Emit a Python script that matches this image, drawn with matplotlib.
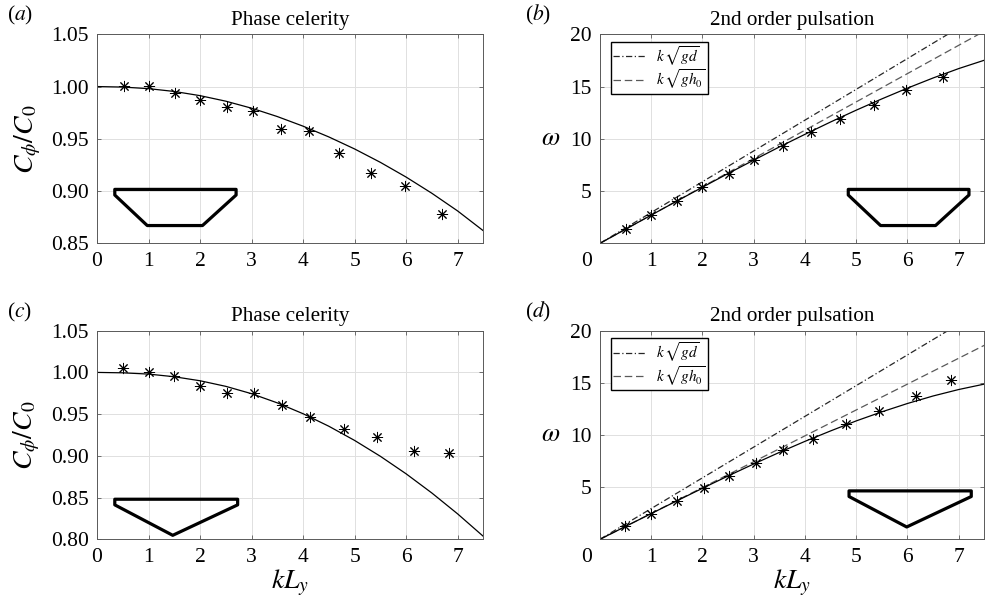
import matplotlib
matplotlib.use("Agg")
import matplotlib.pyplot as plt
from matplotlib.patches import Polygon

plt.rcParams["font.family"] = ["Liberation Serif", "DejaVu Serif"]
plt.rcParams["mathtext.fontset"] = "stix"

# theory curves, read at kLy = 0, 0.5, ..., 7.5
k_curve = [0, 0.5, 1, 1.5, 2, 2.5, 3, 3.5, 4, 4.5, 5, 5.5, 6, 6.5, 7, 7.5]
celerity_a = [1.0, 0.9995, 0.998, 0.9953, 0.9913, 0.9860, 0.9793, 0.9713, 0.9621,
              0.9518, 0.9403, 0.9275, 0.9134, 0.8979, 0.881, 0.862]
omega_b = [0, 1.35, 2.70, 4.04, 5.37, 6.68, 7.96, 9.22, 10.43, 11.61, 12.74,
           13.82, 14.85, 15.82, 16.72, 17.52]
celerity_c = [1.0, 0.9995, 0.998, 0.9948, 0.9900, 0.9833, 0.9745, 0.9635, 0.9505,
              0.9355, 0.9185, 0.8995, 0.8785, 0.8555, 0.8305, 0.8035]
omega_d = [0, 1.235, 2.465, 3.686, 4.891, 6.072, 7.221, 8.33, 9.39, 10.39, 11.35,
           12.22, 13.02, 13.74, 14.36, 14.88]

# measurements (asterisks)
k_a = [0.52, 1.01, 1.51, 2.00, 2.52, 3.02, 3.57, 4.12, 4.69, 5.32, 5.97, 6.69]
cel_a = [1.0005, 1.0008, 0.9941, 0.9871, 0.9807, 0.9766, 0.9597, 0.9575, 0.9361,
         0.9176, 0.9048, 0.8778]
k_b = [0.50, 1.00, 1.50, 2.00, 2.51, 3.01, 3.58, 4.11, 4.68, 5.35, 5.97, 6.70]
om_b = [1.34, 2.71, 4.05, 5.36, 6.67, 8.0, 9.31, 10.68, 11.92, 13.26, 14.67, 15.94]
k_c = [0.50, 1.00, 1.49, 2.00, 2.52, 3.04, 3.59, 4.13, 4.80, 5.44, 6.16, 6.83]
cel_c = [1.005, 1.0009, 0.9961, 0.9834, 0.975, 0.9757, 0.961, 0.947, 0.9322,
         0.9226, 0.9059, 0.9035]
k_d = [0.49, 1.00, 1.50, 2.02, 2.52, 3.04, 3.58, 4.16, 4.80, 5.45, 6.17, 6.84]
om_d = [1.28, 2.40, 3.67, 4.89, 6.10, 7.35, 8.56, 9.61, 11.03, 12.30, 13.77, 15.27]

# long-wave reference lines k*sqrt(gd) and k*sqrt(gh0)
k_line = [0, 7.5]
gd_b = [0, 22.1]
gh0_b = [0, 20.3]
gd_d = [0, 22.1]
gh0_d = [0, 18.6]

# channel cross-sections (axes fraction)
trapezoid = [(0.046, 0.258), (0.360, 0.258), (0.360, 0.231), (0.273, 0.085),
             (0.130, 0.085), (0.046, 0.231)]
triangle = [(0.046, 0.192), (0.364, 0.192), (0.364, 0.165), (0.196, 0.019),
            (0.046, 0.165)]

TICK_FS = 15.5
AST = (8, 2, 0)

fig = plt.figure(figsize=(9.87, 6.06), dpi=100)
ax_a = fig.add_axes([0.0983, 0.5985, 0.3914, 0.3449])
ax_b = fig.add_axes([0.6079, 0.5985, 0.3894, 0.3449])
ax_c = fig.add_axes([0.0983, 0.1101, 0.3914, 0.3442])
ax_d = fig.add_axes([0.6079, 0.1101, 0.3894, 0.3442])


def style(ax):
    ax.set_xlim(0, 7.5)
    ax.set_xticks(range(8))
    ax.grid(True, color="0.88", lw=0.7)
    ax.set_axisbelow(True)
    for s in ax.spines.values():
        s.set_color("0.35")
        s.set_linewidth(0.7)
    ax.tick_params(direction="in", length=3, width=0.6, color="0.35",
                   top=True, right=True, labelsize=TICK_FS, pad=6)


def shape(ax, pts, dx=0.0, dy=0.0):
    poly = Polygon([(x + dx, y + dy) for x, y in pts], closed=True, fill=False,
                   edgecolor="black", lw=2.3, joinstyle="round",
                   transform=ax.transAxes, clip_on=False, zorder=5)
    ax.add_patch(poly)


# (a)
style(ax_a)
ax_a.plot(k_curve, celerity_a, color="black", lw=0.9)
ax_a.plot(k_a, cel_a, ls="none", marker=AST, ms=8, mec="black", mew=0.7)
ax_a.set_ylim(0.85, 1.05)
ax_a.set_yticks([0.85, 0.90, 0.95, 1.00, 1.05])
ax_a.set_yticklabels(["0.85", "0.90", "0.95", "1.00", "1.05"])
ax_a.set_ylabel(r"$C_\phi/C_0$", fontsize=20, labelpad=6)
ax_a.set_title("Phase celerity", fontsize=15.2, pad=7)
shape(ax_a, trapezoid)

# (c)
style(ax_c)
ax_c.plot(k_curve, celerity_c, color="black", lw=0.9)
ax_c.plot(k_c, cel_c, ls="none", marker=AST, ms=8, mec="black", mew=0.7)
ax_c.set_ylim(0.80, 1.05)
ax_c.set_yticks([0.80, 0.85, 0.90, 0.95, 1.00, 1.05])
ax_c.set_yticklabels(["0.80", "0.85", "0.90", "0.95", "1.00", "1.05"])
ax_c.set_ylabel(r"$C_\phi/C_0$", fontsize=20, labelpad=6)
ax_c.set_xlabel(r"$kL_y$", fontsize=20, labelpad=1)
ax_c.set_title("Phase celerity", fontsize=15.2, pad=7)
shape(ax_c, triangle)

# (b) and (d)
for ax, om, kk, oo, gd, gh0, pts, dx in [
        (ax_b, omega_b, k_b, om_b, gd_b, gh0_b, trapezoid, 0.600),
        (ax_d, omega_d, k_d, om_d, gd_d, gh0_d, triangle, 0.602)]:
    style(ax)
    l1, = ax.plot(k_line, gd, color="0.15", lw=0.9, ls=(0, (5, 2, 1, 2)))
    l2, = ax.plot(k_line, gh0, color="0.35", lw=0.9, ls=(0, (6, 3)))
    ax.plot(k_curve, om, color="black", lw=0.9)
    ax.plot(kk, oo, ls="none", marker=AST, ms=8, mec="black", mew=0.7)
    ax.set_ylim(0, 20)
    ax.set_yticks([0, 5, 10, 15, 20])
    ax.set_yticklabels(["", "5", "10", "15", "20"])
    ax.set_xticklabels(["", "1", "2", "3", "4", "5", "6", "7"])
    ax.annotate("0", xy=(0, 0), xycoords="axes fraction", xytext=(-9.5, -6),
                textcoords="offset points", ha="center", va="top",
                fontsize=TICK_FS)
    ax.set_ylabel(r"$\omega$", fontsize=19, rotation=0, labelpad=14, va="center")
    ax.set_title("2nd order pulsation", fontsize=15.2, pad=7)
    leg = ax.legend([l1, l2], [r"$k\,\sqrt{gd}$", r"$k\,\sqrt{gh_0}$"],
                    loc="upper left", bbox_to_anchor=(0.029, 0.965),
                    borderaxespad=0, fontsize=11,
                    handlelength=2.1, handletextpad=0.7, borderpad=0.15,
                    labelspacing=0.0, fancybox=False, framealpha=1,
                    edgecolor="black")
    leg.get_frame().set_linewidth(1.0)
    shape(ax, pts, dx=dx, dy=0.04 if ax is ax_d else 0.0)

ax_d.set_xlabel(r"$kL_y$", fontsize=20, labelpad=1)

# panel tags
for lbl, x, y in [("a", 0.007, 0.975), ("b", 0.532, 0.975),
                  ("c", 0.007, 0.485), ("d", 0.532, 0.485)]:
    fig.text(x, y, "(" + r"$\it{" + lbl + "}$" + ")", fontsize=15.5, va="center")

fig.savefig("out.png", dpi=100)
